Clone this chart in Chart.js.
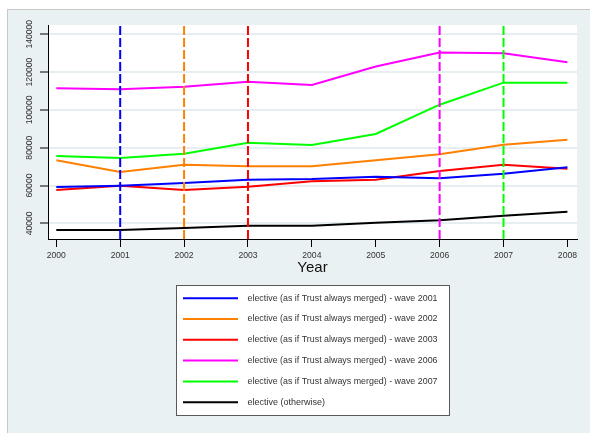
<!DOCTYPE html>
<html>
<head>
<meta charset="utf-8">
<script src="https://cdn.jsdelivr.net/npm/chart.js@4.4.0/dist/chart.umd.min.js"></script>
<style>
    html, body { margin: 0; padding: 0; background: #ffffff; }
    #painel {
        position: absolute; left: 7px; top: 9px; width: 583px; height: 424px;
        background: #eaf1f3; border-left: 1px solid #c8c8c8; border-top: 1px solid #c8c8c8;
        box-sizing: border-box;
    }
    #caixa { position: absolute; left: 0; top: 0; width: 590px; height: 433px; }
</style>
</head>
<body>
<div id="painel"></div>
<div id="caixa"><canvas id="grafico"></canvas></div>
<script>
// valores
var anos = [2000, 2001, 2002, 2003, 2004, 2005, 2006, 2007, 2008];
var onda2001 = [59200, 59900, 61300, 63100, 63450, 64650, 63800, 66250, 69600];
var onda2002 = [73300, 67150, 71000, 70150, 70150, 73300, 76500, 81600, 84250];
var onda2003 = [57600, 59900, 57600, 59350, 62200, 63100, 67700, 71000, 68900];
var onda2006 = [111400, 110900, 112300, 114900, 113200, 122900, 130300, 130000, 125200];
var onda2007 = [75600, 74550, 76800, 82650, 81400, 87250, 102750, 114400, 114400];
var outros = [36450, 36450, 37500, 38750, 38750, 40300, 41600, 44000, 46150];

var nomesSeries = [
    'elective (as if Trust always merged) - wave 2001',
    'elective (as if Trust always merged) - wave 2002',
    'elective (as if Trust always merged) - wave 2003',
    'elective (as if Trust always merged) - wave 2006',
    'elective (as if Trust always merged) - wave 2007',
    'elective (otherwise)'
];
var coresSeries = ['#0000ff', '#ff8000', '#ff0000', '#ff00ff', '#00ff00', '#000000'];

// linhas verticais tracejadas (ano da onda)
var anosOnda = [2001, 2002, 2003, 2006, 2007];
var coresOnda = ['#0000ff', '#ff8000', '#ff0000', '#ff00ff', '#00ff00'];

// rotulos do eixo y
var rotulosY = [40000, 60000, 80000, 100000, 120000, 140000];

var yMin = 31700, yMax = 144900;
var xMin = 1999.87, xMax = 2008.15;

function montarPontos(valores) {
    var pontos = [];
    for (var i = 0; i < anos.length; i++) {
        pontos.push({ x: anos[i], y: valores[i] });
    }
    return pontos;
}

var todasSeries = [onda2001, onda2002, onda2003, onda2006, onda2007, outros];
var datasets = [];

for (var i = 0; i < todasSeries.length; i++) {
    datasets.push({
        label: nomesSeries[i],
        data: montarPontos(todasSeries[i]),
        borderColor: coresSeries[i],
        backgroundColor: coresSeries[i],
        borderWidth: 2,
        pointRadius: 0,
        tension: 0,
        order: 1
    });
}

for (var j = 0; j < anosOnda.length; j++) {
    datasets.push({
        label: 'onda ' + anosOnda[j],
        data: [{ x: anosOnda[j], y: yMin }, { x: anosOnda[j], y: yMax }],
        borderColor: coresOnda[j],
        borderWidth: 2,
        borderDash: [9, 3],
        pointRadius: 0,
        order: 0
    });
}

// fundo branco da area do grafico
var fundoArea = {
    id: 'fundoArea',
    beforeDraw: function (chart) {
        var a = chart.chartArea;
        var ctx = chart.ctx;
        ctx.save();
        ctx.fillStyle = '#ffffff';
        ctx.fillRect(a.left, a.top, a.right - a.left, a.bottom - a.top);
        ctx.restore();
    }
};

// legenda em caixa, uma serie por linha
var legendaCaixa = {
    id: 'legendaCaixa',
    afterDraw: function (chart) {
        var a = chart.chartArea;
        var ctx = chart.ctx;
        var w = 273, h = 130;
        var x0 = Math.round((a.left + a.right) / 2 - w / 2) + 0.5;
        var y0 = Math.round(a.bottom) + 46.5;
        ctx.save();
        ctx.fillStyle = '#ffffff';
        ctx.fillRect(x0, y0, w, h);
        ctx.strokeStyle = '#595959';
        ctx.lineWidth = 1;
        ctx.strokeRect(x0, y0, w, h);
        ctx.font = '9px "Liberation Sans", Arial, sans-serif';
        ctx.textBaseline = 'middle';
        for (var k = 0; k < nomesSeries.length; k++) {
            var yy = y0 + 12.7 + k * 20.8;
            ctx.strokeStyle = coresSeries[k];
            ctx.lineWidth = 2;
            ctx.beginPath();
            ctx.moveTo(x0 + 6.5, yy);
            ctx.lineTo(x0 + 61.5, yy);
            ctx.stroke();
            ctx.fillStyle = '#333333';
            ctx.fillText(nomesSeries[k], x0 + 71, yy, 190);
        }
        ctx.restore();
    }
};

var fonteTicks = { family: '"Liberation Sans", Arial, sans-serif', size: 8.6 };

var grafico = new Chart(document.getElementById('grafico'), {
    type: 'line',
    data: { datasets: datasets },
    plugins: [fundoArea, legendaCaixa],
    options: {
        responsive: true,
        maintainAspectRatio: false,
        animation: false,
        layout: { padding: { left: 8, right: 13, top: 25, bottom: 154 } },
        plugins: {
            legend: { display: false },
            tooltip: { enabled: false }
        },
        scales: {
            x: {
                type: 'linear',
                min: xMin,
                max: xMax,
                afterBuildTicks: function (scale) {
                    scale.ticks = anos.map(function (v) { return { value: v }; });
                },
                ticks: {
                    color: '#333333',
                    font: fonteTicks,
                    padding: 3,
                    maxRotation: 0,
                    autoSkip: false,
                    callback: function (v) { return String(v); }
                },
                grid: { drawOnChartArea: false, drawTicks: true, tickLength: 8, tickColor: '#000000', tickWidth: 1 },
                border: { color: '#000000', width: 1 },
                title: {
                    display: true,
                    text: 'Year',
                    color: '#111111',
                    font: { family: '"Liberation Sans", Arial, sans-serif', size: 15 },
                    padding: { top: 0, bottom: 2 }
                },
                afterFit: function (scale) {
                    scale.height = 40;
                    scale.paddingLeft = 0;
                    scale.paddingRight = 0;
                }
            },
            y: {
                min: yMin,
                max: yMax,
                afterBuildTicks: function (scale) {
                    scale.ticks = rotulosY.map(function (v) { return { value: v }; });
                },
                ticks: {
                    color: '#333333',
                    font: fonteTicks,
                    minRotation: 90,
                    maxRotation: 90,
                    autoSkip: false,
                    crossAlign: 'center',
                    padding: -4,
                    callback: function (v) { return String(v); }
                },
                grid: { color: '#e6eef1', lineWidth: 2, tickLength: 8, tickColor: '#000000', tickWidth: 1 },
                border: { color: '#000000', width: 1 },
                afterFit: function (scale) {
                    scale.width = 40;
                    scale.paddingTop = 0;
                    scale.paddingBottom = 0;
                }
            }
        }
    }
});
</script>
</body>
</html>
